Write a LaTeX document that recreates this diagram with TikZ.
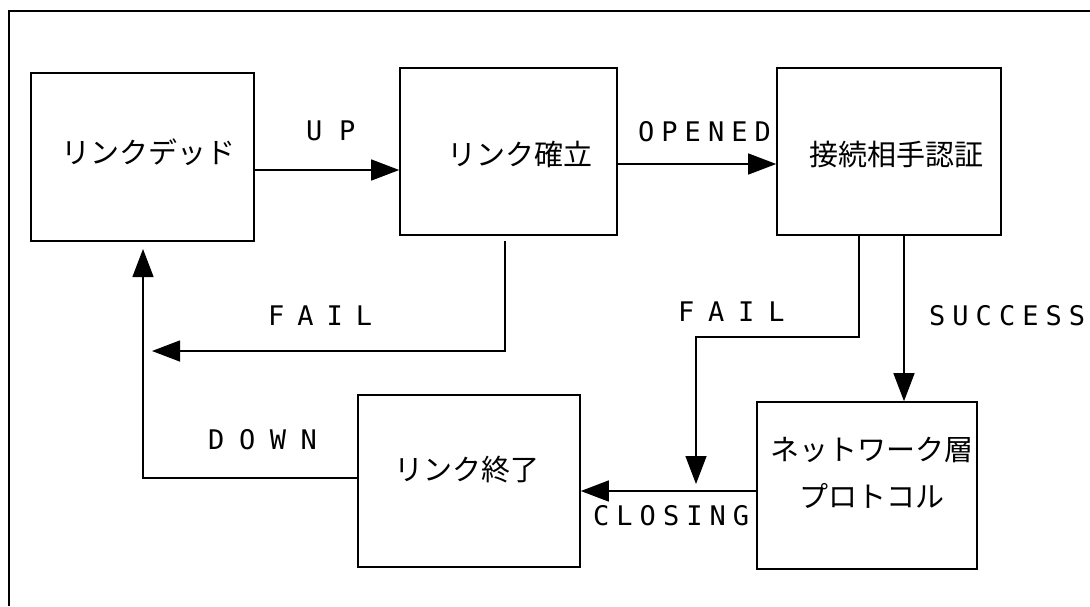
\documentclass[tikz,border=0pt]{standalone}
\usepackage{fontspec}
\usetikzlibrary{arrows.meta,calc}
\newfontfamily\jpfont{Noto Sans CJK JP}
\newfontfamily\lblfont{DejaVu Sans Mono}
\begin{document}
\begin{tikzpicture}[x=1pt,y=-1pt,
  statebox/.style={draw, line width=1.6pt, inner sep=0pt},
  boxtext/.style={inner sep=0pt, align=center, font=\jpfont\fontsize{29}{47}\selectfont},
  conn/.style={line width=1.4pt, -{Triangle[length=28pt,width=21pt]}},
  lbl/.style={anchor=base west, inner sep=0pt, font=\lblfont\fontsize{27}{30}\selectfont}]
\useasboundingbox (0,0) rectangle (1090,606);
\draw[line width=2pt] (9,606) -- (9,11) -- (1090,11);

% states
\node[statebox, minimum width=223pt, minimum height=168pt] (A) at (142.5,157) {};
\node[statebox, minimum width=217pt, minimum height=167pt] (B) at (508.5,151.5) {};
\node[statebox, minimum width=224pt, minimum height=167pt] (C) at (889,151.5) {};
\node[statebox, minimum width=220pt, minimum height=167pt] (D) at (867,485.5) {};
\node[statebox, minimum width=222pt, minimum height=172pt] (E) at (469,481) {};

\node[boxtext] (At) at (148,152) {リンクデッド};
\node[boxtext] (Bt) at (520,154) {リンク確立};
\node[boxtext] (Ct) at (896,154) {接続相手認証};
\node[boxtext] (Dt) at (872,473) {ネットワーク層\\プロトコル};
\node[boxtext] (Et) at (467,470) {リンク終了};

% helper coordinates
\coordinate (yUP) at (0,170);
\coordinate (yOP) at (0,164);
\coordinate (x1) at (505,0);
\coordinate (k1) at (505,351);
\coordinate (f1) at (152,351);
\coordinate (x2) at (859,0);
\coordinate (k2a) at (859,337);
\coordinate (k2b) at (696,337);
\coordinate (f2) at (696,484);
\coordinate (x3) at (904,0);
\coordinate (yCL) at (0,491);
\coordinate (yDN) at (0,478);
\coordinate (k3) at (143,478);
\coordinate (f3) at (143,249);

% connectors
\draw[conn] (A.east |- yUP) -- (B.west |- yUP);
\draw[conn] (B.east |- yOP) -- (C.west |- yOP);
\draw[conn] ($(B.south -| x1)+(0,5)$) -- (k1) -- (f1);
\draw[conn] (C.south -| x2) -- (k2a) -- (k2b) -- (f2);
\draw[conn] (C.south -| x3) -- (D.north -| x3);
\draw[conn] (D.west |- yCL) -- (E.east |- yCL);
\draw[conn] (E.west |- yDN) -- (k3) -- (f3);

% labels
\node[lbl] (lUP) at (306,140) {\addfontfeature{LetterSpace=62}UP};
\node[lbl] (lOP) at (638,141) {\addfontfeature{LetterSpace=26}OPENED};
\node[lbl] (lF1) at (268,325) {\addfontfeature{LetterSpace=48}FAIL};
\node[lbl] (lF2) at (678,321) {\addfontfeature{LetterSpace=51}FAIL};
\node[lbl] (lSU) at (929,325) {\addfontfeature{LetterSpace=26}SUCCESS};
\node[lbl] (lDN) at (208,449) {\addfontfeature{LetterSpace=54}DOWN};
\node[lbl] (lCL) at (593,525) {\addfontfeature{LetterSpace=26}CLOSING};
\end{tikzpicture}
\end{document}
